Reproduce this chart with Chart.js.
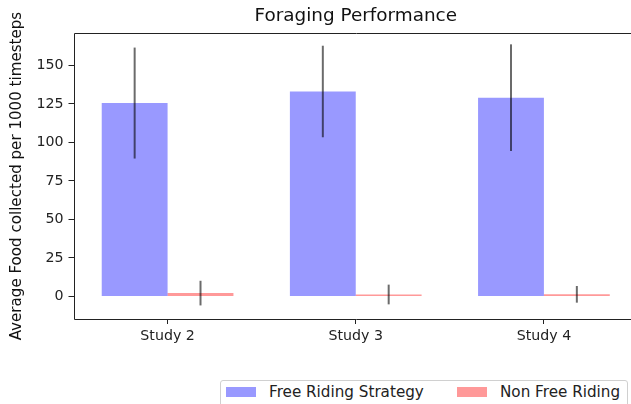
<!DOCTYPE html>
<html>
<head>
<meta charset="utf-8">
<script src="https://cdn.jsdelivr.net/npm/chart.js@4.4.1/dist/chart.umd.min.js"></script>
<style>
  body { margin: 0; overflow: hidden; background: #fff; font-family: "DejaVu Sans", sans-serif; }
  #wrap { position: relative; width: 631px; height: 404px; overflow: hidden; }
  #legend {
    position: absolute; left: 220px; top: 380px; width: 406px; height: 32px;
    border: 1px solid #d0d0d0; border-radius: 3px; background: #fff;
  }
  #legend .sw { position: absolute; top: 6px; width: 30px; height: 10px; }
  #legend .txt { position: absolute; top: 2px; font-size: 15.2px; line-height: 18px; color: #222; white-space: nowrap; }
</style>
</head>
<body>
<div id="wrap">
  <canvas id="grafico" width="650" height="404"></canvas>
  <div id="legend"></div>
</div>
<script>
// dados
const categories = ['Study 2', 'Study 3', 'Study 4'];
const freeRiding = [125.5, 133, 129];
const freeRidingErr = [36, 29.7, 34.6];
const nonFreeRiding = [2.2, 1.3, 1.4];
const nonFreeRidingErr = [8, 6.4, 5.4];
const yTicks = [0, 25, 50, 75, 100, 125, 150];

const fonte = "'DejaVu Sans', sans-serif";

// barras de erro
const errorBars = {
    id: 'errorBars',
    afterDatasetsDraw(chart) {
        const ctx = chart.ctx;
        const y = chart.scales.y;
        chart.data.datasets.forEach((ds, i) => {
            const meta = chart.getDatasetMeta(i);
            meta.data.forEach((bar, j) => {
                const v = ds.data[j], e = ds.errors[j];
                ctx.save();
                ctx.strokeStyle = 'rgba(0,0,0,0.58)';
                ctx.lineWidth = 2;
                ctx.beginPath();
                ctx.moveTo(bar.x, y.getPixelForValue(v + e));
                ctx.lineTo(bar.x, y.getPixelForValue(v - e));
                ctx.stroke();
                ctx.restore();
            });
        });
    }
};

// moldura do grafico (a direita fica fora da imagem)
const moldura = {
    id: 'moldura',
    afterDraw(chart) {
        const a = chart.chartArea;
        const ctx = chart.ctx;
        const l = Math.round(a.left) + 0.5, t = Math.round(a.top) + 0.5;
        const r = Math.round(a.right) + 0.5, b = Math.round(a.bottom) + 0.5;
        ctx.save();
        ctx.strokeStyle = '#222';
        ctx.lineWidth = 1;
        ctx.beginPath();
        ctx.moveTo(r, t);
        ctx.lineTo(l, t);
        ctx.lineTo(l, b);
        ctx.lineTo(r, b);
        ctx.stroke();
        ctx.restore();
    }
};

const chart = new Chart(document.getElementById('grafico'), {
    type: 'bar',
    data: {
        labels: categories,
        datasets: [{
            label: 'Free Riding Strategy',
            data: freeRiding,
            errors: freeRidingErr,
            backgroundColor: 'rgba(0,0,255,0.4)',
            categoryPercentage: 0.7,
            barPercentage: 1
        }, {
            label: 'Non Free Riding',
            data: nonFreeRiding,
            errors: nonFreeRidingErr,
            backgroundColor: 'rgba(255,0,0,0.4)',
            categoryPercentage: 0.7,
            barPercentage: 1
        }]
    },
    options: {
        responsive: false,
        animation: false,
        layout: { padding: { left: 0, right: 12, top: 0, bottom: 0 } },
        plugins: {
            legend: { display: false },
            tooltip: { enabled: false },
            title: {
                display: true,
                text: 'Foraging Performance',
                fullSize: false,
                color: '#111',
                font: { family: fonte, size: 18.4, weight: 'normal' },
                padding: { top: 5, bottom: 6 }
            }
        },
        scales: {
            x: {
                offset: true,
                grid: { offset: false, drawOnChartArea: false, drawTicks: true, tickLength: 5, tickColor: '#222' },
                border: { display: false },
                ticks: { color: '#222', padding: 4, font: { family: fonte, size: 14.2 } },
                afterFit(scale) { scale.height = 85; }
            },
            y: {
                min: -14.6,
                max: 170.9,
                grid: { drawOnChartArea: false, drawTicks: true, tickLength: 5, tickColor: '#222' },
                border: { display: false },
                ticks: { color: '#222', padding: 5, font: { family: fonte, size: 14.2 } },
                afterBuildTicks(scale) { scale.ticks = yTicks.map(v => ({ value: v })); },
                afterFit(scale) { scale.width = 73.5; },
                title: {
                    display: true,
                    text: 'Average Food collected per 1000 timesteps',
                    color: '#111',
                    font: { family: fonte, size: 15.1 },
                    padding: { top: 8.5, bottom: 0 }
                }
            }
        }
    },
    plugins: [errorBars, moldura]
});

// legenda em html
const posicoes = [[5, 48], [236, 279]];
const legenda = document.getElementById('legend');
chart.data.datasets.forEach((ds, i) => {
    const sw = document.createElement('div');
    sw.className = 'sw';
    sw.style.left = posicoes[i][0] + 'px';
    sw.style.background = ds.backgroundColor;
    legenda.appendChild(sw);
    const t = document.createElement('div');
    t.className = 'txt';
    t.style.left = posicoes[i][1] + 'px';
    t.textContent = ds.label;
    legenda.appendChild(t);
});
</script>
</body>
</html>
